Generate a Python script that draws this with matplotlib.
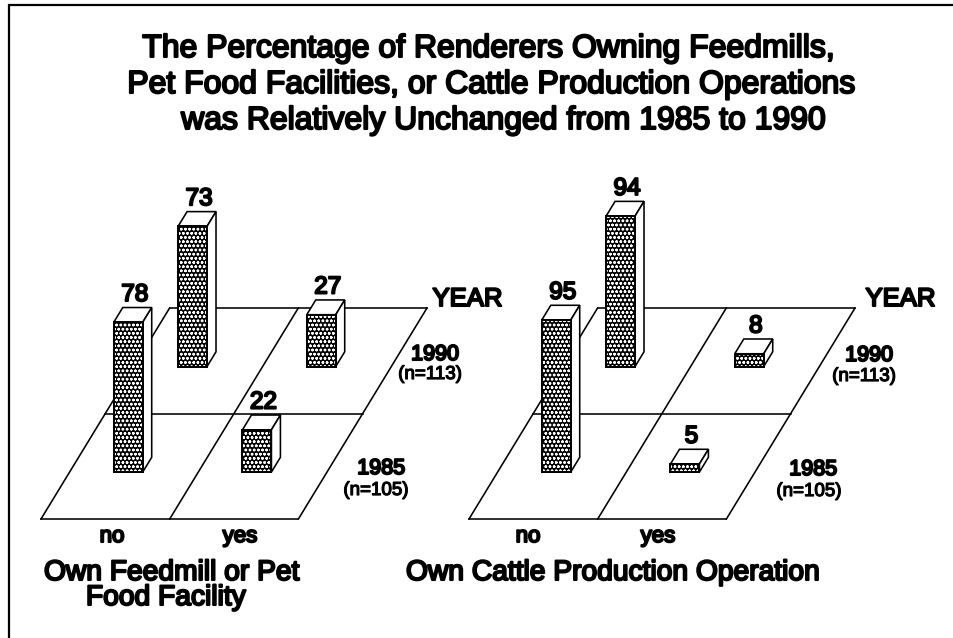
"""Two skewed-floor 3-D bar panels: renderers owning facilities, 1985 vs 1990."""
import matplotlib
matplotlib.use("Agg")
import matplotlib.pyplot as plt
import matplotlib.patheffects as pe
from matplotlib.patches import Polygon

TITLE_LINES = [
    "The Percentage of Renderers Owning Feedmills,",
    "Pet Food Facilities, or Cattle Production Operations",
    "was Relatively Unchanged from 1985 to 1990",
]
CATEGORIES = ["no", "yes"]
YEAR_LABELS = ["1985", "1990"]
YEAR_NS = ["(n=105)", "(n=113)"]
# rows: 1985, 1990; columns: no, yes
FEEDMILL = [[78, 22], [73, 27]]
CATTLE = [[95, 5], [94, 8]]
FEEDMILL_XLABEL = ["Own Feedmill or Pet", "Food Facility"]
CATTLE_XLABEL = ["Own Cattle Production Operation"]

W, H = 954, 638
BLACK = "#000000"
LW = 1.15
FONT = "Liberation Sans"


def label(ax, x, y, s, size, stroke=1.5):
    ax.text(x, y, s, ha="center", va="baseline", fontsize=size, family=FONT,
            color=BLACK, path_effects=[pe.withStroke(linewidth=stroke, foreground=BLACK)])


def draw_panel(ax, x0, values, scale, cat_xs, xlabel, xlabel_pos, year_x, yr_pos, n_pos):
    du, dvx, dvy = 128.7, 64.3, 105.5
    y0 = 519

    def proj(u, v, h=0.0):
        return (x0 + du * u + dvx * v, y0 - dvy * v - h)

    # floor grid
    for v in (0, 1, 2):
        ax.plot(*zip(proj(0, v), proj(2, v)), color=BLACK, lw=LW, zorder=1)
    for u in (0, 1, 2):
        ax.plot(*zip(proj(u, 0), proj(u, 2)), color=BLACK, lw=LW, zorder=1)

    # bars, back row first
    bw, bd = 0.225, 0.14
    for row in (1, 0):
        for col in (0, 1):
            val = values[row][col]
            h = val * scale
            u, v = col + 0.343, row + 0.445
            a = proj(u, v)
            b = proj(u + bw, v)
            c = proj(u + bw, v + bd)
            at, bt = proj(u, v, h), proj(u + bw, v, h)
            ct, dt = proj(u + bw, v + bd, h), proj(u, v + bd, h)
            ax.add_patch(Polygon([at, dt, ct, bt], fc="white", ec=BLACK, lw=LW, zorder=3))
            ax.add_patch(Polygon([b, c, ct, bt], fc="white", ec=BLACK, lw=LW, zorder=3))
            ax.add_patch(Polygon([a, b, bt, at], fc=BLACK, ec="white", hatch="oooo", lw=0, zorder=3))
            ax.add_patch(Polygon([a, b, bt, at], fc="none", ec=BLACK, lw=LW + 0.3, zorder=3))
            label(ax, (at[0] + ct[0]) / 2 + 2, ct[1] - 6.5, str(val), 17.5)

    # axis text
    for cat, cx in zip(CATEGORIES, cat_xs):
        label(ax, cx, 542, cat, 16)
    for s, (cx, y) in zip(xlabel, xlabel_pos):
        label(ax, cx, y, s, 20.3)
    label(ax, year_x, 306, "YEAR", 18.5)
    for yr, n, (yx, yy), (nx, ny) in zip(YEAR_LABELS, YEAR_NS, yr_pos, n_pos):
        label(ax, yx, yy, yr, 15.5)
        label(ax, nx, ny, n, 13.5, 0.9)


def main():
    plt.rcParams["hatch.linewidth"] = 0.7
    fig = plt.figure(figsize=(W / 100, H / 100), dpi=100)
    ax = fig.add_axes([0, 0, 1, 1])
    ax.set_xlim(0, W)
    ax.set_ylim(H, 0)
    ax.axis("off")

    # frame has only top and left rules
    ax.plot([9, 9, W], [H, 5, 5], color=BLACK, lw=1.6, solid_joinstyle="miter")

    for line, cx, y in zip(TITLE_LINES, (489, 492, 504), (57, 93, 129)):
        label(ax, cx, y, line, 23)

    draw_panel(ax, 41, FEEDMILL, 1.92, (112, 240), FEEDMILL_XLABEL, ((172, 580), (166, 605)),
               467.5, ((381, 474), (435, 360)), ((376, 495), (430, 379)))
    draw_panel(ax, 469, CATTLE, 1.6, (528, 658), CATTLE_XLABEL, ((613, 580),),
               900.5, ((813, 475), (869, 361)), ((809, 496), (864, 381)))

    fig.savefig("out.png", dpi=100)
    plt.close(fig)


if __name__ == "__main__":
    main()
